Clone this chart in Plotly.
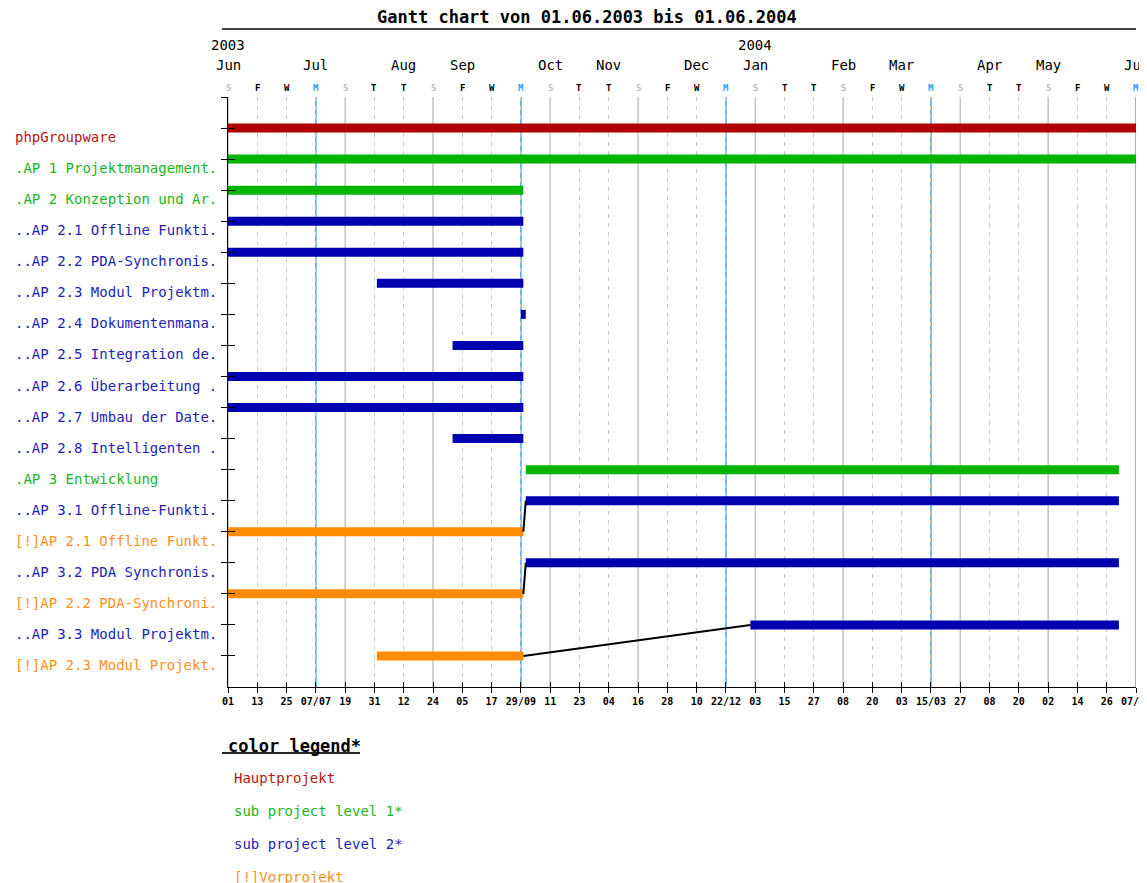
import plotly.graph_objects as go

# Aufgaben (Zeilen von oben nach unten)
task_labels = [
    "phpGroupware",
    ".AP 1 Projektmanagement.",
    ".AP 2 Konzeption und Ar.",
    "..AP 2.1 Offline Funkti.",
    "..AP 2.2 PDA-Synchronis.",
    "..AP 2.3 Modul Projektm.",
    "..AP 2.4 Dokumentenmana.",
    "..AP 2.5 Integration de.",
    "..AP 2.6 Überarbeitung .",
    "..AP 2.7 Umbau der Date.",
    "..AP 2.8 Intelligenten .",
    ".AP 3 Entwicklung",
    "..AP 3.1 Offline-Funkti.",
    "[!]AP 2.1 Offline Funkt.",
    "..AP 3.2 PDA Synchronis.",
    "[!]AP 2.2 PDA-Synchroni.",
    "..AP 3.3 Modul Projektm.",
    "[!]AP 2.3 Modul Projekt.",
]
task_levels = ["main", "l1", "l1", "l2", "l2", "l2", "l2", "l2", "l2", "l2", "l2",
               "l1", "l2", "pre", "l2", "pre", "l2", "pre"]
task_starts = ["2003-06-01", "2003-06-01", "2003-06-01", "2003-06-01", "2003-06-01",
               "2003-08-01", "2003-09-29", "2003-09-01", "2003-06-01", "2003-06-01",
               "2003-09-01", "2003-10-01", "2003-10-01", "2003-06-01", "2003-10-01",
               "2003-06-01", "2004-01-01", "2003-08-01"]
task_ends = ["2004-06-07", "2004-06-07", "2003-09-30", "2003-09-30", "2003-09-30",
             "2003-09-30", "2003-10-01", "2003-09-30", "2003-09-30", "2003-09-30",
             "2003-09-30", "2004-05-31", "2004-05-31", "2003-09-30", "2004-05-31",
             "2003-09-30", "2004-05-31", "2003-09-30"]

# Abhängigkeiten: (Vorgänger-Zeile, Nachfolger-Zeile)
dependencies = [(13, 12), (15, 14), (17, 16)]

# Achsen-Beschriftung
tick_dates = ["2003-06-01", "2003-06-13", "2003-06-25", "2003-07-07", "2003-07-19",
              "2003-07-31", "2003-08-12", "2003-08-24", "2003-09-05", "2003-09-17",
              "2003-09-29", "2003-10-11", "2003-10-23", "2003-11-04", "2003-11-16",
              "2003-11-28", "2003-12-10", "2003-12-22", "2004-01-03", "2004-01-15",
              "2004-01-27", "2004-02-08", "2004-02-20", "2004-03-03", "2004-03-15",
              "2004-03-27", "2004-04-08", "2004-04-20", "2004-05-02", "2004-05-14",
              "2004-05-26", "2004-06-07"]
tick_text = ["01", "13", "25", "07/07", "19", "31", "12", "24", "05", "17", "29/09",
             "11", "23", "04", "16", "28", "10", "22/12", "03", "15", "27", "08", "20",
             "03", "15/03", "27", "08", "20", "02", "14", "26", "07/06"]
weekday_letters = ["S", "F", "W", "M", "S", "T", "T", "S", "F", "W", "M", "S", "T", "T",
                   "S", "F", "W", "M", "S", "T", "T", "S", "F", "W", "M", "S", "T", "T",
                   "S", "F", "W", "M"]
month_dates = ["2003-06-01", "2003-07-07", "2003-08-12", "2003-09-05", "2003-10-11",
               "2003-11-04", "2003-12-10", "2004-01-03", "2004-02-08", "2004-03-03",
               "2004-04-08", "2004-05-02", "2004-06-07"]
month_names = ["Jun", "Jul", "Aug", "Sep", "Oct", "Nov", "Dec", "Jan", "Feb", "Mar",
               "Apr", "May", "Jun"]
year_dates = ["2003-06-01", "2004-01-03"]
year_names = ["2003", "2004"]

legend_texts = ["Hauptprojekt", "sub project level 1*", "sub project level 2*", "[!]Vorprojekt"]
legend_levels = ["main", "l1", "l2", "pre"]

BAR_COLORS = {"main": "#b00000", "l1": "#00b400", "l2": "#0000b0", "pre": "#ff8c00"}
TEXT_COLORS = {"main": "#b81414", "l1": "#1eb41e", "l2": "#1e1eb4", "pre": "#ff901e"}
LETTER_COLORS = {"S": "#c0c0c0", "M": "#2e9cff"}
MONO = "DejaVu Sans Mono"

# Seite: 1147x883, der Body hat 8px Rand -> Figur entsprechend kleiner
OFF = 8
W, H = 1147 - OFF, 883 - OFF
# Plotbereich in Seiten-Pixeln
L, R, T, B = 228, 1136, 97, 687


def px_x(p):
    # Pixel -> Papier-Koordinate (horizontal)
    return (p - L) / (R - L)


def px_y(p):
    # Pixel -> Papier-Koordinate (vertikal)
    return (B - p) / (B - T)


fig = go.Figure()

# Balken
for i, lab in enumerate(task_labels):
    fig.add_trace(go.Scatter(
        x=[task_starts[i], task_ends[i]], y=[i, i], mode="lines",
        line=dict(color=BAR_COLORS[task_levels[i]], width=9),
        hoverinfo="text", text=lab, showlegend=False))

# Verbindungslinien
for a, b in dependencies:
    fig.add_trace(go.Scatter(
        x=[task_ends[a], task_starts[b]], y=[a, b], mode="lines",
        line=dict(color="black", width=2), hoverinfo="skip", showlegend=False))

# unsichtbare Spur für die überlagerten Achsen (Ticks nach innen)
fig.add_trace(go.Scatter(x=[tick_dates[0]], y=[0], xaxis="x2", yaxis="y2", mode="markers",
                         marker=dict(opacity=0), hoverinfo="skip", showlegend=False))

# Gitterlinien: Sonntag grau, Montag blau
for d, letter in zip(tick_dates, weekday_letters):
    if letter == "S":
        fig.add_shape(type="line", x0=d, x1=d, xref="x", y0=0, y1=1, yref="paper",
                      line=dict(color="#c4c4c4", width=1.5), layer="between")
    elif letter == "M":
        fig.add_shape(type="line", x0=d, x1=d, xref="x", y0=0, y1=1, yref="paper",
                      line=dict(color="#3aa6ff", width=1.5), layer="between")

annotations = []
# Zeilenbeschriftungen
for i, lab in enumerate(task_labels):
    annotations.append(dict(x=px_x(13), xref="paper", y=i + 0.29, yref="y", text=lab,
                            showarrow=False, xanchor="left", yanchor="middle",
                            font=dict(family=MONO, size=14, color=TEXT_COLORS[task_levels[i]])))
# Kopfzeilen
for d, txt in zip(year_dates, year_names):
    annotations.append(dict(x=d, xref="x", y=px_y(45), yref="paper", text=txt, showarrow=False,
                            xanchor="center", yanchor="middle",
                            font=dict(family=MONO, size=14, color="black")))
for d, txt in zip(month_dates, month_names):
    annotations.append(dict(x=d, xref="x", y=px_y(65), yref="paper", text=txt, showarrow=False,
                            xanchor="center", yanchor="middle",
                            font=dict(family=MONO, size=14, color="black")))
for d, letter in zip(tick_dates, weekday_letters):
    annotations.append(dict(x=d, xref="x", y=px_y(88), yref="paper", text=letter, showarrow=False,
                            xanchor="center", yanchor="middle",
                            font=dict(family=MONO, size=9, weight="bold",
                                      color=LETTER_COLORS.get(letter, "black"))))
annotations.append(dict(x=px_x(587), xref="paper", y=px_y(17), yref="paper",
                        text="Gantt chart von 01.06.2003 bis 01.06.2004", showarrow=False,
                        xanchor="center", yanchor="middle",
                        font=dict(family=MONO, size=17, weight="bold", color="black")))
# Farblegende
annotations.append(dict(x=px_x(226), xref="paper", y=px_y(746), yref="paper",
                        text="color legend*", showarrow=False, xanchor="left", yanchor="middle",
                        font=dict(family=MONO, size=17, weight="bold", color="black")))
for k, (txt, lev) in enumerate(zip(legend_texts, legend_levels)):
    annotations.append(dict(x=px_x(232), xref="paper", y=px_y(778 + 33 * k), yref="paper",
                            text=txt, showarrow=False, xanchor="left", yanchor="middle",
                            font=dict(family=MONO, size=14, color=TEXT_COLORS[lev])))

# Unterstreichungen
fig.add_shape(type="line", xref="paper", yref="paper", x0=px_x(222), x1=px_x(1136),
              y0=px_y(29), y1=px_y(29), line=dict(color="#444444", width=2))
fig.add_shape(type="line", xref="paper", yref="paper", x0=px_x(222), x1=px_x(360),
              y0=px_y(753), y1=px_y(753), line=dict(color="#222222", width=2))

yticks = list(range(-1, len(task_labels)))
fig.update_layout(
    width=W, height=H, autosize=False,
    margin=dict(l=L - OFF, r=W - (R - OFF), t=T - OFF, b=H - (B - OFF), pad=0,
                autoexpand=False),
    plot_bgcolor="white", paper_bgcolor="white",
    showlegend=False,
    annotations=annotations,
    xaxis=dict(type="date", range=[tick_dates[0], tick_dates[-1]],
               tickvals=tick_dates, ticktext=tick_text, tickangle=0,
               ticklabeloverflow="allow", automargin=False,
               ticks="outside", ticklen=5, tickcolor="black", tickwidth=1,
               showline=True, linecolor="black", linewidth=1,
               showgrid=True, gridcolor="#c8c8c8", griddash="4px,5px", gridwidth=1,
               zeroline=False,
               tickfont=dict(family=MONO, size=10, weight="bold", color="black")),
    xaxis2=dict(type="date", range=[tick_dates[0], tick_dates[-1]], overlaying="x",
                anchor="y2", side="bottom", tickvals=tick_dates, ticks="inside",
                ticklen=5, tickcolor="black", showticklabels=False, showgrid=False,
                showline=False, zeroline=False, automargin=False),
    yaxis=dict(range=[len(task_labels), -1], tickvals=yticks, ticks="outside", ticklen=6,
               tickcolor="black", showticklabels=False, showline=True, linecolor="black",
               linewidth=1, showgrid=False, zeroline=False, automargin=False),
    yaxis2=dict(range=[len(task_labels), -1], overlaying="y", anchor="x2", tickvals=yticks,
                ticks="inside", ticklen=7, tickcolor="black", showticklabels=False,
                showgrid=False, showline=False, zeroline=False, automargin=False),
)

fig.write_html("out.html")
